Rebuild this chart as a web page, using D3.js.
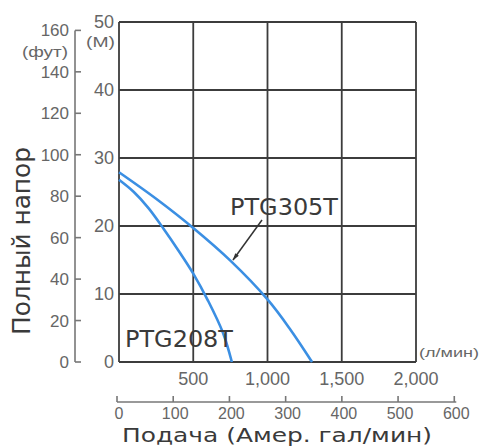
<!DOCTYPE html>
<html>
<head>
<meta charset="utf-8">
<script src="https://cdn.jsdelivr.net/npm/d3@7"></script>
<style>
  body { margin: 0; background: #fff; }
  svg text { font-family: "Liberation Sans", Arial, sans-serif; }
  svg text.big { font-family: "DejaVu Sans", Verdana, sans-serif; }
</style>
</head>
<body>
<div id="chart"></div>
<script>
  // flow in l/min, head in metres
  const ptg305Flow = [0, 250, 500, 750, 1000, 1150, 1300];
  const ptg305Head = [27.9, 24.0, 19.7, 14.9, 9.2, 4.9, 0];
  const ptg208Flow = [0, 100, 200, 300, 400, 500, 600, 700, 760];
  const ptg208Head = [26.8, 25.0, 22.6, 19.6, 16.4, 13.0, 9.0, 4.3, 0];

  const meterTicks = [0, 10, 20, 30, 40, 50];
  const feetTicks = [0, 20, 40, 60, 80, 100, 120, 140, 160];
  const lpmTicks = [500, 1000, 1500, 2000];
  const galTicks = [0, 100, 200, 300, 400, 500, 600];

  const FT_PER_M = 3.28084;
  const L_PER_GAL = 3.78541;

  (function () {
    "use strict";

    const width = 483, height = 448;
    const plotLeft = 119, plotRight = 416, plotTop = 22, plotBottom = 362;

    const svg = d3.select("#chart").append("svg")
      .attr("width", width).attr("height", height);

    const x = d3.scaleLinear().domain([0, 2000]).range([plotLeft, plotRight]);
    const y = d3.scaleLinear().domain([0, 50]).range([plotBottom, plotTop]);

    const gridColor = "#3c3c3c";
    const textColor = "#666";
    const labelColor = "#3a3a3a";

    // grid
    const grid = svg.append("g").attr("stroke", gridColor).attr("stroke-width", 1.8);
    grid.selectAll("line.v").data([0].concat(lpmTicks)).join("line")
      .attr("class", "v")
      .attr("x1", d => x(d)).attr("x2", d => x(d))
      .attr("y1", plotTop).attr("y2", plotBottom);
    grid.selectAll("line.h").data(meterTicks).join("line")
      .attr("class", "h")
      .attr("x1", plotLeft).attr("x2", plotRight)
      .attr("y1", d => y(d)).attr("y2", d => y(d));

    // metre labels
    svg.append("g").selectAll("text").data(meterTicks).join("text")
      .attr("x", 114).attr("y", d => y(d)).attr("dy", "0.36em")
      .attr("text-anchor", "end").attr("font-size", 18).attr("fill", textColor)
      .text(d => d);
    svg.append("text").attr("x", 115).attr("y", 42).attr("dy", "0.36em")
      .attr("text-anchor", "end").attr("font-size", 15).attr("fill", textColor)
      .attr("textLength", 29).attr("lengthAdjust", "spacingAndGlyphs").text("(М)");

    // feet axis
    const yFt = d3.scaleLinear().domain([0, 50 * FT_PER_M]).range([plotBottom, plotTop]);
    const ftAxis = svg.append("g").attr("stroke", "#777").attr("stroke-width", 1.6);
    ftAxis.append("line").attr("x1", 75).attr("x2", 75)
      .attr("y1", yFt(160)).attr("y2", yFt(0));
    ftAxis.selectAll("line.t").data(feetTicks).join("line")
      .attr("class", "t")
      .attr("x1", 75).attr("x2", 81)
      .attr("y1", d => yFt(d)).attr("y2", d => yFt(d));
    svg.append("g").selectAll("text").data(feetTicks).join("text")
      .attr("x", 69).attr("y", d => yFt(d)).attr("dy", "0.36em")
      .attr("text-anchor", "end").attr("font-size", 17).attr("fill", textColor)
      .text(d => d);
    svg.append("text").attr("x", 68).attr("y", 52).attr("dy", "0.36em")
      .attr("text-anchor", "end").attr("font-size", 14).attr("fill", textColor)
      .attr("textLength", 46).attr("lengthAdjust", "spacingAndGlyphs").text("(фут)");

    // l/min labels
    svg.append("g").selectAll("text").data(lpmTicks).join("text")
      .attr("x", d => x(d)).attr("y", 385)
      .attr("text-anchor", "middle").attr("font-size", 18).attr("fill", textColor)
      .text(d => d3.format(",")(d));
    svg.append("text").attr("x", 419).attr("y", 352).attr("dy", "0.36em")
      .attr("font-size", 13).attr("fill", textColor)
      .attr("textLength", 60).attr("lengthAdjust", "spacingAndGlyphs").text("(л/мин)");

    // US gallon axis
    const xGal = d3.scaleLinear().domain([0, 2000 / L_PER_GAL]).range([plotLeft, plotRight]);
    const galY = 402;
    const galAxis = svg.append("g").attr("stroke", "#777").attr("stroke-width", 1.6);
    galAxis.append("line").attr("x1", xGal(0) - 2).attr("x2", xGal(600))
      .attr("y1", galY).attr("y2", galY);
    galAxis.selectAll("line.t").data(galTicks).join("line")
      .attr("class", "t")
      .attr("x1", d => xGal(d) - 2).attr("x2", d => xGal(d) - 2)
      .attr("y1", galY).attr("y2", galY - 6);
    svg.append("g").selectAll("text").data(galTicks).join("text")
      .attr("x", d => xGal(d)).attr("y", 419)
      .attr("text-anchor", "middle").attr("font-size", 16).attr("fill", textColor)
      .text(d => d);
    svg.append("text").attr("class", "big").attr("x", 122).attr("y", 442)
      .attr("font-size", 20).attr("fill", labelColor)
      .attr("textLength", 310).attr("lengthAdjust", "spacingAndGlyphs")
      .text("Подача (Амер. гал/мин)");

    // y title
    svg.append("text").attr("class", "big")
      .attr("transform", "translate(30,241) rotate(-90)")
      .attr("text-anchor", "middle").attr("font-size", 24).attr("fill", labelColor)
      .attr("textLength", 188).attr("lengthAdjust", "spacingAndGlyphs")
      .text("Полный напор");

    // curves
    const line = d3.line().x(d => x(d[0])).y(d => y(d[1])).curve(d3.curveCatmullRom);
    const curveColor = "#3b8fe3";
    [[ptg305Flow, ptg305Head], [ptg208Flow, ptg208Head]].forEach(([f, h]) => {
      svg.append("path")
        .datum(f.map((v, i) => [v, h[i]]))
        .attr("fill", "none").attr("stroke", curveColor).attr("stroke-width", 2.6)
        .attr("d", line);
    });

    // labels and arrow
    svg.append("text").attr("class", "big").attr("x", 230).attr("y", 215)
      .attr("font-size", 23).attr("fill", labelColor)
      .attr("textLength", 108).attr("lengthAdjust", "spacingAndGlyphs").text("PTG305T");
    svg.append("text").attr("class", "big").attr("x", 125).attr("y", 347)
      .attr("font-size", 23).attr("fill", labelColor)
      .attr("textLength", 108).attr("lengthAdjust", "spacingAndGlyphs").text("PTG208T");

    svg.append("defs").append("marker")
      .attr("id", "ah").attr("viewBox", "0 0 12 8").attr("refX", 11).attr("refY", 4)
      .attr("markerWidth", 9).attr("markerHeight", 5).attr("orient", "auto")
      .attr("markerUnits", "userSpaceOnUse")
      .append("path").attr("d", "M0,0.5 L12,4 L0,7.5 Z").attr("fill", "#333");
    svg.append("line").attr("x1", 262).attr("y1", 220).attr("x2", 233).attr("y2", 260)
      .attr("stroke", "#333").attr("stroke-width", 1.5).attr("marker-end", "url(#ah)");
  })();
</script>
</body>
</html>
